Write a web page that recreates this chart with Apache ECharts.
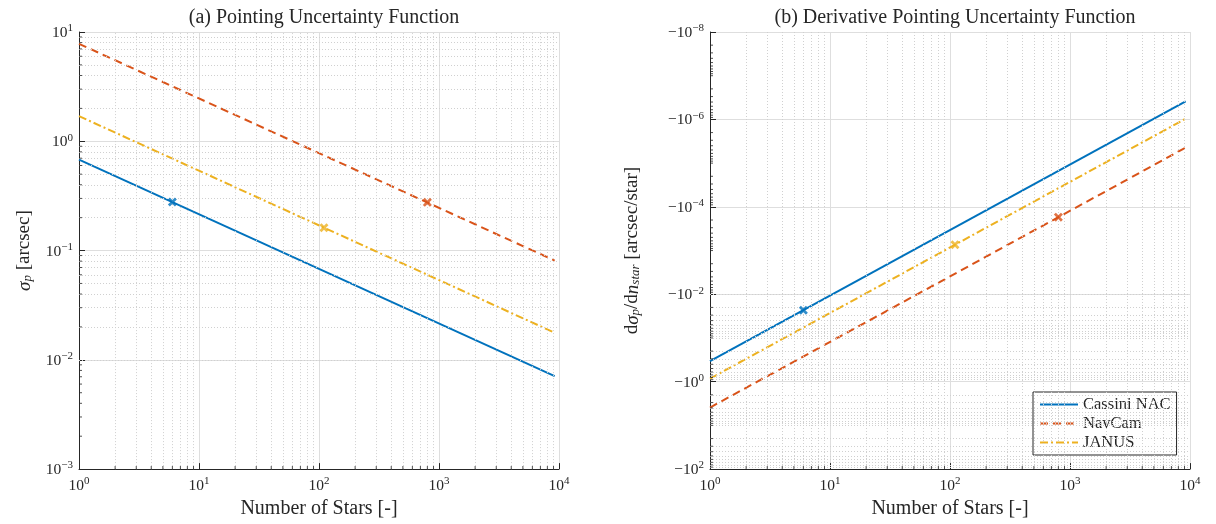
<!DOCTYPE html>
<html>
<head>
<meta charset="utf-8">
<script src="https://cdn.jsdelivr.net/npm/echarts@6/dist/echarts.min.js"></script>
<style>
  html, body { margin: 0; padding: 0; background: #ffffff; }
  #chart { width: 1216px; height: 524px; }
</style>
</head>
<body>
<div id="chart"></div>
<script>
// Instruments
const seriesNames = ['Cassini NAC', 'NavCam', 'JANUS'];
const seriesColors = ['#0072BD', '#D95319', '#EDB120'];

// Number of stars at the two ends of each curve
const starRange = [1, 9200];

// (a) pointing uncertainty sigma_p [arcsec] at the ends of starRange
const sigmaCassini = [0.68, 0.0071];
const sigmaNavCam = [7.8, 0.081];
const sigmaJanus = [1.7, 0.0177];

// (b) magnitude of the (negative) derivative d sigma_p / d n_star [arcsec/star]
const dSigmaCassini = [0.34, 3.85e-7];
const dSigmaNavCam = [3.9, 4.42e-6];
const dSigmaJanus = [0.85, 9.63e-7];

// Operating points marked on each curve
const markerStars = [6, 800, 110];
const markerSigma = [0.278, 0.276, 0.162];
const markerDSigma = [0.0231, 1.72e-4, 7.37e-4];

// Axis extents (decades)
const xExtent = [1, 10000];
const yExtentA = [1e-3, 10];
const yExtentB = [1e-8, 100];

const FONT = '"Liberation Serif", "DejaVu Serif", serif';
const INK = '#262626';
const GRID_MAJOR = '#dedede';
const GRID_MINOR = '#d0d0d0';

// log-decade subdivisions (2..9 x 10^e) used for minor ticks and dotted grid
function decadeSubdivisions(lo, hi, withOddDecades) {
  const out = [];
  const e0 = Math.round(Math.log10(lo)), e1 = Math.round(Math.log10(hi));
  for (let e = e0; e < e1; e++) {
    const base = Math.pow(10, e);
    if (withOddDecades && e > e0 && (e - e0) % 2 === 1) out.push(base);
    for (let k = 2; k <= 9; k++) out.push(k * base);
  }
  return out;
}
const xMinor = decadeSubdivisions(xExtent[0], xExtent[1], false);
const yMinorA = decadeSubdivisions(yExtentA[0], yExtentA[1], false);
const yMinorB = decadeSubdivisions(yExtentB[0], yExtentB[1], true);

function expText(e) { return e < 0 ? '\u2212' + (-e) : String(e); }
function powerLabel(prefix) {
  return function (v) {
    const e = Math.round(Math.log10(v));
    return '{b|' + prefix + '10}{s|' + expText(e) + '}';
  };
}
const tickRich = {
  b: { fontFamily: FONT, fontSize: 15.5, color: INK, lineHeight: 18, verticalAlign: 'bottom' },
  s: { fontFamily: FONT, fontSize: 11, color: INK, lineHeight: 11, verticalAlign: 'top' }
};
const nameRich = {
  r: { fontFamily: FONT, fontSize: 19, color: INK, lineHeight: 24, verticalAlign: 'bottom' },
  i: { fontFamily: FONT, fontSize: 19, fontStyle: 'italic', color: INK, lineHeight: 24, verticalAlign: 'bottom' },
  sub: { fontFamily: FONT, fontSize: 13, fontStyle: 'italic', color: INK, lineHeight: 12, verticalAlign: 'bottom' }
};

function xAxisDef(gridIndex) {
  return {
    type: 'log', logBase: 10, gridIndex: gridIndex,
    min: xExtent[0], max: xExtent[1],
    name: 'Number of Stars [-]', nameLocation: 'middle', nameGap: 27,
    nameTextStyle: { fontFamily: FONT, fontSize: 20, color: INK },
    axisLine: { show: true, onZero: false, lineStyle: { color: INK, width: 1 } },
    axisTick: { show: true, inside: true, length: 6, lineStyle: { color: INK } },
    axisLabel: { formatter: powerLabel(''), rich: tickRich, margin: 7 },
    splitLine: { show: true, lineStyle: { color: GRID_MAJOR, width: 1 } },
    minorTick: { show: false }, minorSplitLine: { show: false }
  };
}

const lineTypes = ['solid', [8, 5], [8, 3, 2, 3]];

const option = {
  animation: false,
  backgroundColor: '#ffffff',
  title: [
    { text: '(a) Pointing Uncertainty Function', left: 319, top: 3, textAlign: 'center',
      textStyle: { fontFamily: FONT, fontSize: 20, fontWeight: 'normal', color: INK } },
    { text: '(b) Derivative Pointing Uncertainty Function', left: 950, top: 3, textAlign: 'center',
      textStyle: { fontFamily: FONT, fontSize: 20, fontWeight: 'normal', color: INK } }
  ],
  grid: [
    { left: 79, top: 32, width: 480, height: 439, containLabel: false },
    { left: 710, top: 32, width: 480, height: 439, containLabel: false }
  ],
  xAxis: [xAxisDef(0), xAxisDef(1)],
  yAxis: [
    {
      type: 'log', logBase: 10, gridIndex: 0,
      min: yExtentA[0], max: yExtentA[1],
      name: '{i|\u03c3}{sub|p}{r| [arcsec]}', nameLocation: 'middle', nameGap: 45, nameRotate: 90,
      nameTextStyle: { rich: nameRich },
      axisLine: { show: true, onZero: false, lineStyle: { color: INK, width: 1 } },
      axisTick: { show: true, inside: true, length: 6, lineStyle: { color: INK } },
      axisLabel: { formatter: powerLabel(''), rich: tickRich, margin: 6 },
      splitLine: { show: true, lineStyle: { color: GRID_MAJOR, width: 1 } }
    },
    {
      type: 'log', logBase: 10, gridIndex: 1, inverse: true,
      min: yExtentB[0], max: yExtentB[1], interval: 2,
      name: '{r|d}{i|\u03c3}{sub|p}{r|/d}{i|n}{sub|star}{r| [arcsec/star]}',
      nameLocation: 'middle', nameGap: 68, nameRotate: 90,
      nameTextStyle: { rich: nameRich },
      axisLine: { show: true, onZero: false, lineStyle: { color: INK, width: 1 } },
      axisTick: { show: true, inside: true, length: 6, lineStyle: { color: INK } },
      axisLabel: { formatter: powerLabel('\u2212'), rich: tickRich, margin: 6 },
      splitLine: { show: true, lineStyle: { color: GRID_MAJOR, width: 1 } }
    }
  ],
  legend: {
    left: 1033, top: 392, orient: 'vertical',
    data: seriesNames.map((name, i) => ({
      name: name,
      itemStyle: { opacity: 0 },
      lineStyle: { color: seriesColors[i], width: 2, type: lineTypes[i], opacity: 1 }
    })),
    itemStyle: { opacity: 0 },
    backgroundColor: '#ffffff', borderColor: INK, borderWidth: 1, borderRadius: 0,
    padding: [4, 6, 4, 6], itemWidth: 38, itemHeight: 14, itemGap: 2,
    textStyle: { fontFamily: FONT, fontSize: 16.5, lineHeight: 17, color: INK },
    selectedMode: false
  },
  series: []
};

// dotted minor grid for both panels
function minorGridSeries(axisIndex, yMinor) {
  return {
    type: 'line', xAxisIndex: axisIndex, yAxisIndex: axisIndex, data: [], silent: true, z: 1,
    markLine: {
      silent: true, symbol: ['none', 'none'], label: { show: false }, animation: false,
      lineStyle: { color: GRID_MINOR, width: 1, type: [1, 2] },
      emphasis: { disabled: true },
      data: xMinor.map(v => ({ xAxis: v })).concat(yMinor.map(v => ({ yAxis: v })))
    }
  };
}
option.series.push(minorGridSeries(0, yMinorA));
option.series.push(minorGridSeries(1, yMinorB));

// short inward minor ticks along the bottom and left axis lines
function minorTickSeries(axisIndex, yMin, yMinor) {
  const common = {
    type: 'scatter', xAxisIndex: axisIndex, yAxisIndex: axisIndex, silent: true, clip: false, z: 6,
    symbol: 'rect', itemStyle: { color: INK }, emphasis: { disabled: true }
  };
  return [
    Object.assign({}, common, { data: xMinor.map(v => [v, yMin]), symbolSize: [1, 3], symbolOffset: [0, -1.5] }),
    Object.assign({}, common, { data: yMinor.map(v => [xExtent[0], v]), symbolSize: [3, 1], symbolOffset: [1.5, 0] })
  ];
}
option.series.push(...minorTickSeries(0, yExtentA[0], yMinorA));
option.series.push(...minorTickSeries(1, yExtentB[1], yMinorB));

// curves
const sigmaData = [sigmaCassini, sigmaNavCam, sigmaJanus];
const dSigmaData = [dSigmaCassini, dSigmaNavCam, dSigmaJanus];
const X_MARK = 'path://M0,2.2L2.2,0L5,2.8L7.8,0L10,2.2L7.2,5L10,7.8L7.8,10L5,7.2L2.2,10L0,7.8L2.8,5Z';

seriesNames.forEach((name, i) => {
  [sigmaData[i], dSigmaData[i]].forEach((vals, panel) => {
    option.series.push({
      type: 'line', name: name, xAxisIndex: panel, yAxisIndex: panel,
      data: starRange.map((n, k) => [n, vals[k]]),
      symbol: 'none', silent: true, z: 4,
      color: seriesColors[i],
      lineStyle: { color: seriesColors[i], width: 2, type: lineTypes[i] },
      emphasis: { disabled: true }
    });
    const markVal = panel === 0 ? markerSigma[i] : markerDSigma[i];
    option.series.push({
      type: 'scatter', xAxisIndex: panel, yAxisIndex: panel,
      data: [[markerStars[i], markVal]],
      symbol: X_MARK, symbolSize: 9, silent: true, z: 5,
      itemStyle: { color: seriesColors[i] },
      emphasis: { disabled: true }
    });
  });
});

const chart = echarts.init(document.getElementById('chart'), null, { renderer: 'canvas' });
chart.setOption(option);
</script>
</body>
</html>
